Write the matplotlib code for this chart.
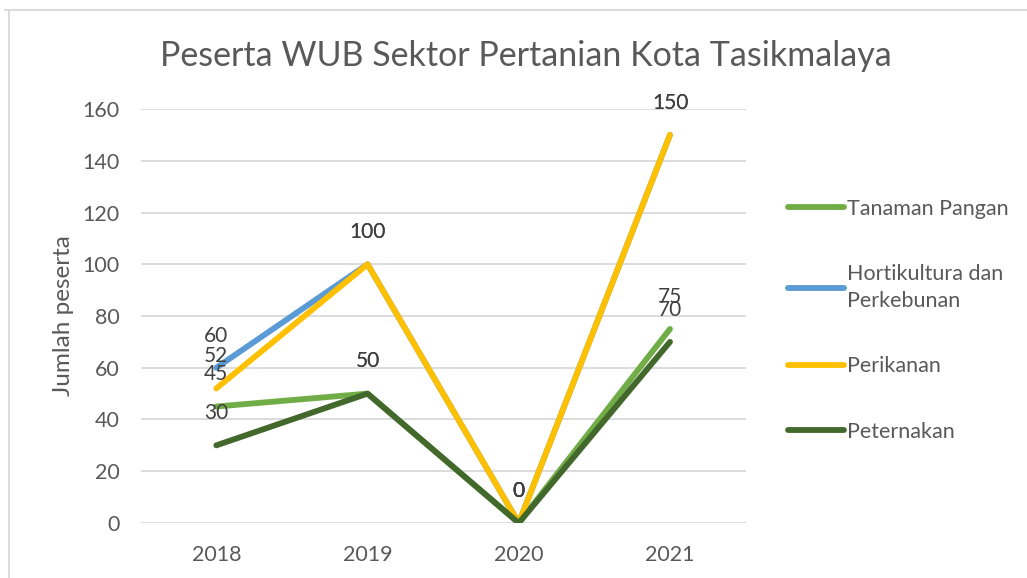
import matplotlib.pyplot as plt
from matplotlib.lines import Line2D

# data
years = ["2018", "2019", "2020", "2021"]
tanaman_pangan = [45, 50, 0, 75]
hortikultura = [60, 100, 0, 150]
perikanan = [52, 100, 0, 150]
peternakan = [30, 50, 0, 70]

series = [
    ("Tanaman Pangan", tanaman_pangan, "#70AD47"),
    ("Hortikultura dan\nPerkebunan", hortikultura, "#5B9BD5"),
    ("Perikanan", perikanan, "#FFC000"),
    ("Peternakan", peternakan, "#43682B"),
]

plt.rcParams["font.family"] = ["Lato", "DejaVu Sans"]
text_color = "#595959"

fig = plt.figure(figsize=(10.27, 5.78), dpi=100)
ax = fig.add_axes([0.137, 0.0952, 0.589, 0.7162])

x = list(range(len(years)))
for name, vals, color in series:
    ax.plot(x, vals, color=color, lw=4.2, solid_capstyle="round",
            solid_joinstyle="round", label=name)
    for xi, v in zip(x, vals):
        ax.annotate(str(v), (xi, v), xytext=(0, 16), textcoords="offset points",
                    ha="center", va="bottom", fontsize=15, color="#404040",
                    annotation_clip=False)

ax.set_xlim(-0.5, 3.5)
ax.set_ylim(0, 160)
ax.set_yticks(range(0, 161, 20))
ax.set_xticks(x)
ax.set_xticklabels(years)
ax.tick_params(length=0, labelsize=15.5, colors=text_color, pad=16)
ax.tick_params(axis="y", pad=15)
ax.grid(axis="y", color="#D9D9D9", lw=1.3)
ax.set_axisbelow(True)
for s in ax.spines.values():
    s.set_visible(False)

ax.set_ylabel("Jumlah peserta", fontsize=17.5, color=text_color, labelpad=6)
fig.text(0.512, 0.903, "Peserta WUB Sektor Pertanian Kota Tasikmalaya",
         ha="center", va="center", fontsize=24.5, color=text_color)

leg = ax.legend(loc="upper left", bbox_to_anchor=(1.038, 0.83), frameon=False,
                fontsize=15.5, handlelength=2.6, handletextpad=0.15,
                labelspacing=2.1, labelcolor=text_color)
for t in leg.get_texts():
    t.set_linespacing(1.45)

# chart border (top and left visible in the reference)
fig.add_artist(Line2D([0.005, 1.0], [0.983, 0.983], transform=fig.transFigure,
                      color="#D9D9D9", lw=1.3))
fig.add_artist(Line2D([0.009, 0.009], [0.0, 0.983], transform=fig.transFigure,
                      color="#D9D9D9", lw=1.3))

fig.savefig("out.png", dpi=100)
